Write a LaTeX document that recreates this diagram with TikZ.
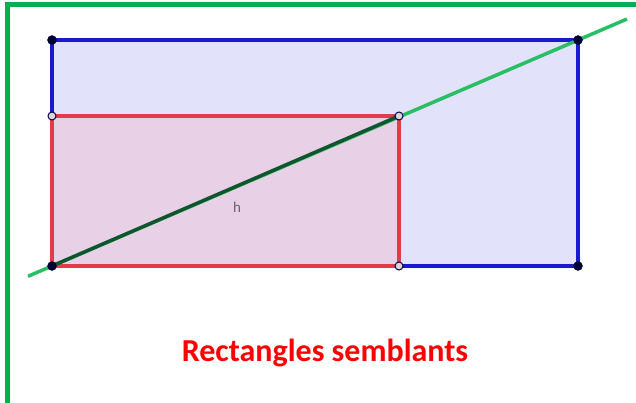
\documentclass[tikz,border=0pt]{standalone}
\usepackage{fontspec}
\setmainfont{Carlito}
\definecolor{cadre}{RGB}{0,176,80}
\definecolor{bleu}{RGB}{25,25,205}
\definecolor{rouge}{RGB}{225,60,75}
\definecolor{vertclair}{RGB}{40,190,100}
\definecolor{vertfonce}{RGB}{15,85,45}
\definecolor{fondbleu}{RGB}{226,226,250}
\definecolor{fondrouge}{RGB}{232,208,230}
\tikzset{
  plein/.style={fill=black!80!blue, draw=black!80!blue},
  creux/.style={fill=black!15, draw=black!70!blue, line width=1pt}
}
\begin{document}
\begin{tikzpicture}[x=1pt,y=-1pt]
\useasboundingbox (0,0) rectangle (636,403);
\coordinate (A) at (52,266);
\coordinate (B) at (399,266);
\coordinate (C) at (399,116);
\coordinate (D) at (52,116);
\coordinate (E) at (578,266);
\coordinate (F) at (578,40);
\coordinate (G) at (52,40);
\coordinate (g) at (28,276.3);
\coordinate (d) at (627,19);
% cadre
\draw[cadre, line width=5pt] (7,403) -- (7,4.5) -- (636,4.5);
% rectangles
\fill[fondbleu] (A) rectangle (F);
\fill[fondrouge] (A) rectangle (C);
\draw[bleu, line width=4.5pt] (B) -- (E) -- (F) -- (G) -- (D);
\draw[rouge, line width=4pt] (A) -- (B) -- (C) -- (D) -- cycle;
% droite
\draw[vertclair, line width=3.5pt] (g) -- (d);
\draw[vertfonce, line width=3.5pt] (A) -- (C);
\node[text=black!60, font=\fontsize{15}{16}\selectfont] (h) at (237,207) {h};
% points
\foreach \p in {A,E,F,G} {
    \filldraw[plein] (\p) circle (4.5pt);
}
\foreach \p in {B,C,D} {
    \filldraw[creux] (\p) circle (4pt);
}
\node[text=red, font=\bfseries\fontsize{32}{36}\selectfont] (titre) at (325,353) {Rectangles semblants};
\end{tikzpicture}
\end{document}
